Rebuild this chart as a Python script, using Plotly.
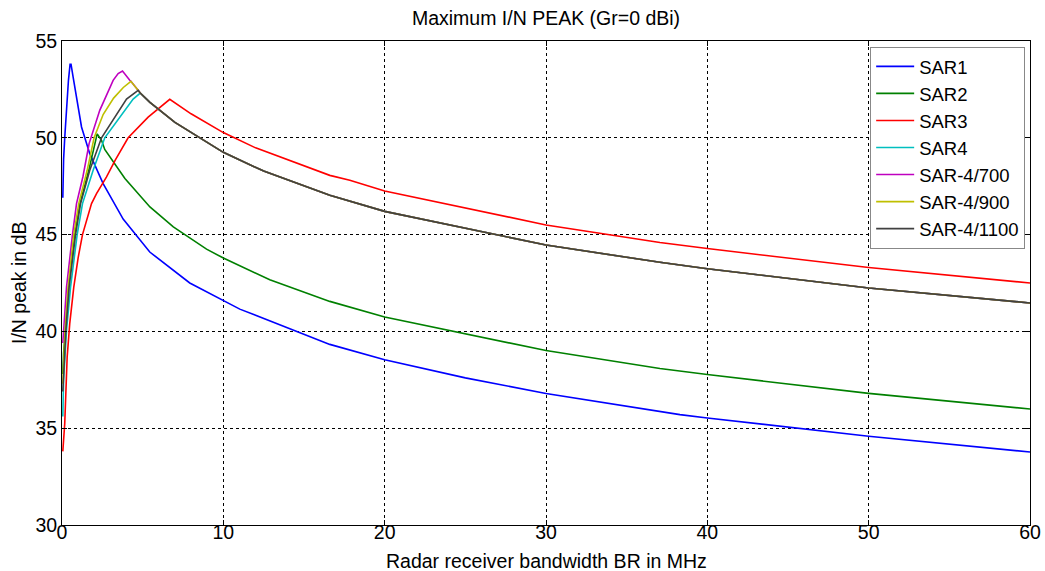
import plotly.graph_objects as go

# ---------------- data ----------------
sar1_x = [0.05, 0.07, 0.10, 0.17, 0.28, 0.40, 0.50, 0.56, 0.69, 0.90, 1.21, 1.72, 2.55, 3.79,
          5.44, 7.92, 10.0, 11.02, 16.6, 20.0, 25.0, 30.0, 38.3, 40.0, 50.0, 60.0]
sar1_y = [46.9, 48.3, 48.9, 50.0, 51.6, 52.97, 53.8, 53.8, 53.14, 52.11, 50.56, 49.18, 47.63, 45.8,
          44.1, 42.5, 41.6, 41.15, 39.33, 38.54, 37.6, 36.79, 35.70, 35.53, 34.58, 33.77]

sar2_x = [0.05, 0.10, 0.21, 0.41, 0.79, 1.12, 1.66, 2.12, 2.18, 2.45, 2.65, 3.9, 5.45, 6.9,
          8.96, 10.0, 12.88, 16.6, 20.0, 30.0, 37.06, 40.0, 50.0, 60.0]
sar2_y = [37.8, 38.9, 40.06, 42.29, 45.0, 46.6, 48.32, 50.0, 50.2, 49.87, 49.4, 47.9, 46.43, 45.4,
          44.25, 43.79, 42.67, 41.55, 40.74, 39.01, 38.08, 37.77, 36.80, 35.99]

sar3_x = [0.05, 0.17, 0.32, 0.48, 0.73, 1.0, 1.27, 1.72, 1.83, 2.14, 2.76, 3.3, 4.1, 5.34, 6.68,
          8.0, 10.0, 12.0, 16.6, 17.84, 20.0, 30.0, 37.06, 40.0, 50.0, 60.0]
sar3_y = [33.8, 35.24, 38.68, 40.4, 42.29, 43.8, 45.0, 46.26, 46.6, 47.12, 47.98, 48.85, 50.0, 51.07, 51.99,
          51.24, 50.27, 49.48, 48.06, 47.81, 47.25, 45.5, 44.59, 44.28, 43.30, 42.50]

# SAR-4 family: rising branches differ, falling branch is shared
sar4_rise_x = [0.05, 0.10, 0.28, 0.53, 0.94, 1.27, 1.93, 2.65, 4.41, 4.85]
sar4_rise_y = [35.6, 37.5, 40.06, 42.29, 45.0, 46.6, 48.32, 50.0, 52.0, 52.31]

sar4_700_rise_x = [0.05, 0.11, 0.28, 0.65, 0.9, 1.3, 1.68, 2.34, 2.65, 3.17, 3.48, 3.75, 4.2]
sar4_700_rise_y = [39.4, 40.06, 42.29, 45.0, 46.6, 48.0, 49.7, 51.42, 52.0, 52.97, 53.32, 53.45, 52.97]

sar4_900_rise_x = [0.05, 0.19, 0.38, 0.73, 1.04, 1.56, 1.99, 2.55, 3.2, 3.8, 4.27]
sar4_900_rise_y = [37.3, 40.06, 42.29, 45.0, 46.6, 48.32, 50.0, 51.2, 52.05, 52.6, 52.92]

sar4_1100_rise_x = [0.05, 0.24, 0.44, 0.84, 1.15, 1.72, 2.45, 4.0, 4.72]
sar4_1100_rise_y = [36.9, 40.06, 42.29, 45.0, 46.6, 48.32, 50.0, 52.0, 52.45]

sar4_fall_x = [4.2, 4.27, 4.72, 4.85, 5.45, 7.0, 10.0, 12.5, 16.6, 17.84, 20.0, 30.0, 37.06, 40.0, 50.0, 60.0]
sar4_fall_y = [52.97, 52.92, 52.45, 52.31, 51.83, 50.8, 49.25, 48.28, 47.03, 46.74, 46.2, 44.46, 43.57, 43.24, 42.24, 41.47]

names = ["SAR1", "SAR2", "SAR3", "SAR4", "SAR-4/700", "SAR-4/900", "SAR-4/1100"]
colors = ["#0000FF", "#008000", "#FF0000", "#00BFBF", "#BF00BF", "#BFBF00", "#404040"]

x_ticks = [0, 10, 20, 30, 40, 50, 60]
y_ticks = [30, 35, 40, 45, 50, 55]


def join(rx, ry):
    last = rx[-1]
    fx = [v for v in sar4_fall_x if v > last]
    fy = [sar4_fall_y[i] for i, v in enumerate(sar4_fall_x) if v > last]
    return rx + fx, ry + fy


series = [
    (sar1_x, sar1_y),
    (sar2_x, sar2_y),
    (sar3_x, sar3_y),
    join(sar4_rise_x, sar4_rise_y),
    join(sar4_700_rise_x, sar4_700_rise_y),
    join(sar4_900_rise_x, sar4_900_rise_y),
    join(sar4_1100_rise_x, sar4_1100_rise_y),
]

FONT = "Liberation Sans"
TXT = 19.5

fig = go.Figure()
for (xs, ys), n, c in zip(series, names, colors):
    fig.add_trace(go.Scatter(x=xs, y=ys, mode="lines", name=n,
                             line=dict(color=c, width=1.6)))

axis_common = dict(
    showgrid=True, gridcolor="#000000", gridwidth=1, griddash="3px,3px",
    showline=True, linecolor="#000000", linewidth=1, mirror="ticks",
    ticks="inside", ticklen=5, tickcolor="#000000", zeroline=False,
    automargin=False,
    tickfont=dict(family=FONT, size=TXT, color="#000000"),
)

fig.update_layout(
    width=1045, height=571,
    margin=dict(l=62, r=15, t=41, b=46, autoexpand=False),
    paper_bgcolor="white", plot_bgcolor="white",
    showlegend=True,
    title=dict(text="Maximum I/N PEAK (Gr=0 dBi)", x=0.5, xref="paper",
               y=1 - 18 / 571, yref="container", yanchor="middle",
               font=dict(family=FONT, size=TXT, color="#000000")),
    xaxis=dict(range=[0, 60], tickvals=x_ticks, ticktext=[str(v) for v in x_ticks],
               ticklabelstandoff=-10, **axis_common),
    yaxis=dict(range=[30, 55], tickvals=y_ticks, ticktext=[str(v) for v in y_ticks],
               **axis_common),
    legend=dict(x=0.995, y=0.988, xanchor="right", yanchor="top",
                bgcolor="white", bordercolor="#888888", borderwidth=1,
                font=dict(family=FONT, size=18.5, color="#000000"),
                itemwidth=38, tracegroupgap=0),
    annotations=[
        dict(text="Radar receiver bandwidth BR in MHz", xref="paper", yref="paper",
             x=0.5, y=-(561 - 525) / 484, xanchor="center", yanchor="middle",
             showarrow=False, font=dict(family=FONT, size=TXT, color="#000000")),
        dict(text="I/N peak in dB", xref="paper", yref="paper",
             x=-(62 - 19) / 968, y=0.5, xanchor="center", yanchor="middle",
             textangle=-90, showarrow=False, font=dict(family=FONT, size=TXT, color="#000000")),
    ],
)

fig.write_html("out.html", config={"displayModeBar": False},
               post_script="document.body.style.margin='0';document.body.style.padding='0';")
